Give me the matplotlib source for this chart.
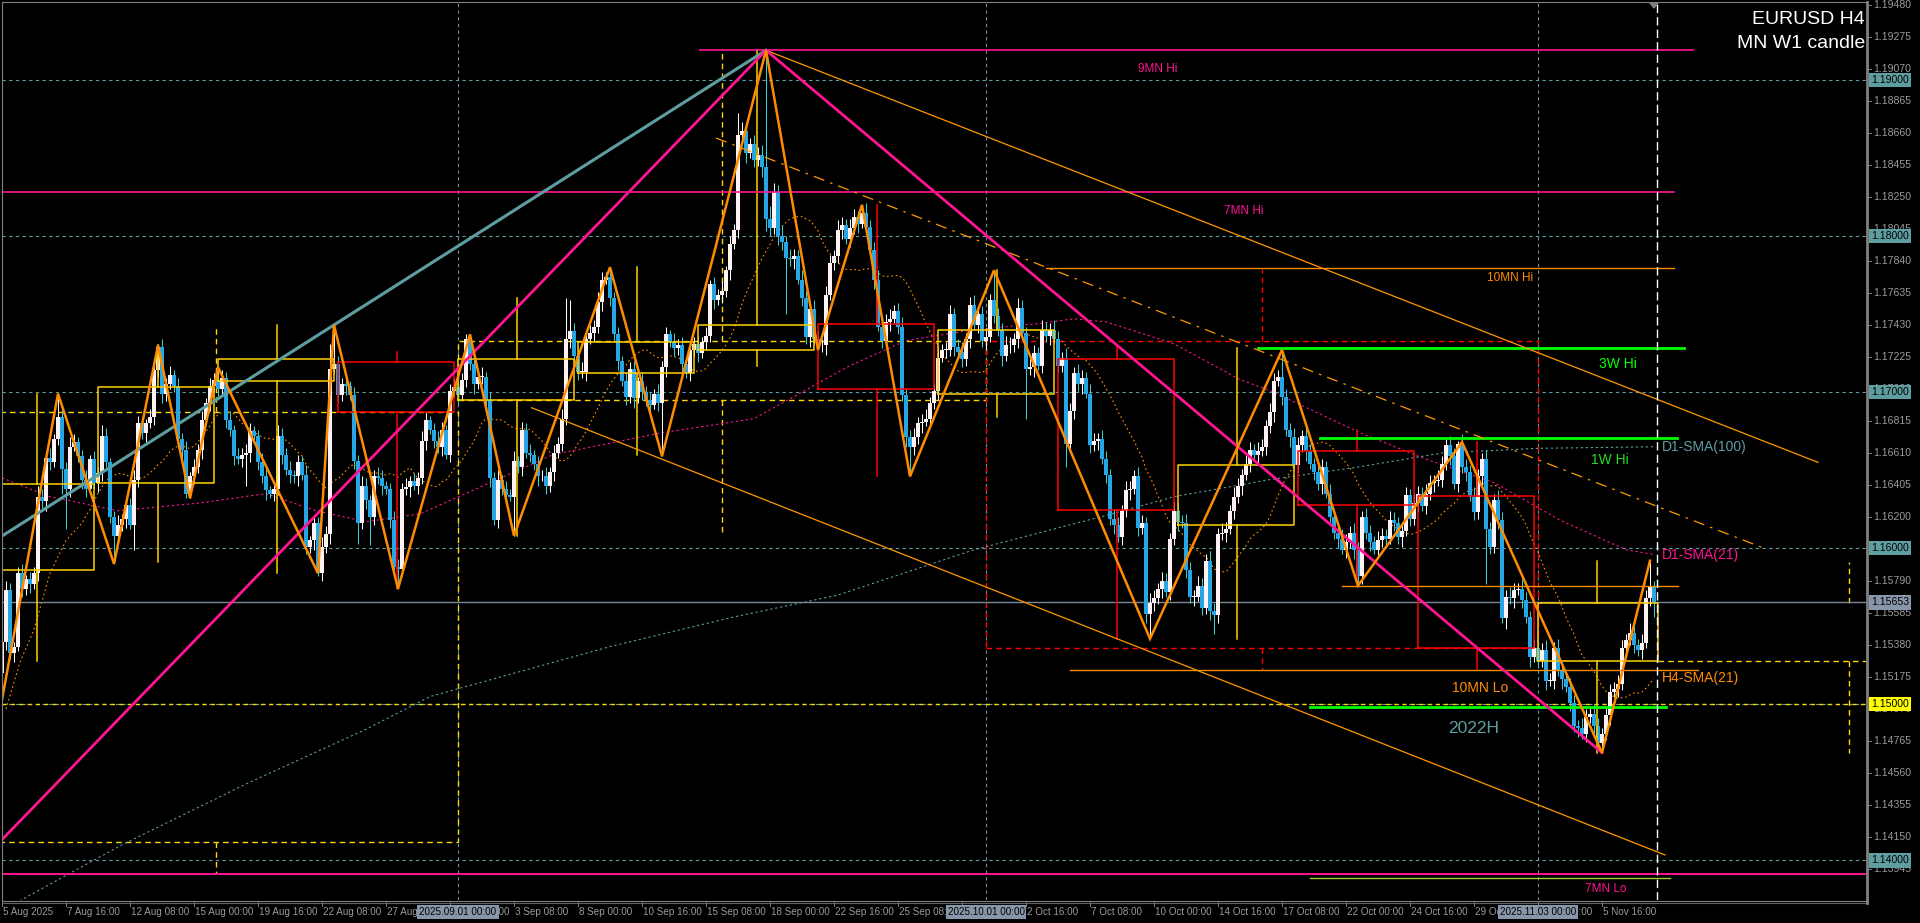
import matplotlib
matplotlib.use("Agg")
import matplotlib.pyplot as plt
import numpy as np
import pandas as pd
from matplotlib.transforms import blended_transform_factory
from matplotlib.patches import Polygon
from matplotlib import font_manager

W, H = 1920, 923
FONT = "Liberation Sans"
try:
    font_manager.findfont("Liberation Sans Narrow", fallback_to_default=False)
    AXFONT, AXSIZE = "Liberation Sans Narrow", 8.5
except Exception:
    AXFONT, AXSIZE = "Liberation Sans", 7.1
PRICE_FS = 7.6

# ---------------- data (pips above 1.1000, 1 pip = 0.0001) ----------------
close_pips = [
    540, 573, 533, 537, 584, 574, 580, 577, 584, 633,
    630, 658, 655, 670, 684, 651, 638, 665, 668, 659,
    644, 638, 657, 642, 648, 672, 655, 620, 608, 615,
    619, 628, 615, 644, 680, 674, 680, 684, 714, 729,
    699, 705, 711, 704, 670, 663, 635, 646, 652, 663,
    682, 693, 704, 708, 702, 709, 682, 676, 659, 657,
    660, 661, 675, 672, 655, 646, 637, 635, 638, 672,
    660, 650, 647, 646, 655, 647, 601, 605, 616, 584,
    601, 609, 715, 718, 698, 705, 704, 698, 656, 616,
    640, 631, 620, 646, 645, 640, 638, 618, 588, 587,
    638, 639, 643, 640, 645, 669, 682, 676, 669, 665,
    676, 660, 701, 703, 698, 708, 734, 718, 705, 710,
    710, 695, 645, 618, 644, 638, 634, 633, 656, 652,
    676, 661, 660, 654, 646, 646, 640, 649, 661, 667,
    683, 734, 739, 723, 713, 713, 734, 738, 742, 758,
    772, 774, 760, 737, 720, 707, 697, 715, 696, 707,
    700, 695, 692, 699, 693, 716, 737, 732, 728, 730,
    718, 712, 727, 731, 725, 732, 736, 769, 759, 762,
    765, 778, 795, 804, 865, 867, 853, 859, 849, 852,
    844, 811, 805, 828, 800, 796, 786, 785, 787, 772,
    760, 735, 753, 734, 730, 730, 762, 783, 787, 804,
    807, 798, 805, 812, 808, 815, 806, 791, 772, 742,
    733, 745, 747, 752, 742, 698, 671, 665, 671, 680,
    681, 683, 693, 701, 722, 727, 727, 750, 729, 726,
    721, 734, 756, 743, 750, 733, 735, 759, 749, 740,
    723, 730, 730, 734, 754, 738, 715, 716, 725, 717,
    740, 736, 740, 734, 717, 722, 667, 688, 712, 705,
    709, 699, 666, 669, 670, 657, 647, 619, 615, 607,
    624, 637, 638, 646, 613, 616, 558, 565, 568, 574,
    579, 572, 606, 624, 617, 616, 586, 569, 569, 576,
    562, 592, 560, 557, 609, 610, 612, 624, 633, 640,
    647, 654, 663, 660, 662, 665, 678, 687, 707, 710,
    697, 676, 671, 653, 666, 672, 662, 654, 649, 641,
    652, 635, 620, 610, 606, 599, 604, 610, 599, 582,
    620, 610, 604, 599, 605, 608, 606, 618, 616, 607,
    611, 634, 619, 629, 635, 627, 635, 642, 643, 644,
    654, 666, 659, 641, 667, 652, 649, 633, 623, 646,
    657, 612, 601, 631, 618, 555, 569, 568, 573, 574,
    567, 556, 530, 536, 528, 535, 515, 515, 536, 522,
    516, 511, 501, 486, 485, 481, 492, 494, 486, 475,
    481, 493, 508, 510, 513, 536, 541, 546, 538, 535,
    539, 568, 575, 565,
]
first_open_pips = 520

upper_wick_pips = [
    4, 6, 5, 3, 4, 6, 3, 5, 4, 7,
    5, 4, 6, 3, 15, 5, 4, 6, 5, 3,
    4, 6, 3, 5, 4, 7, 5, 3, 4, 6,
    3, 5, 4, 6, 5, 4, 3, 5, 6, 2,
    5, 4, 6, 3, 5, 4, 6, 3, 5, 4,
    6, 3, 5, 4, 8, 5, 4, 6, 3, 5,
    4, 6, 5, 3, 4, 6, 5, 3, 4, 7,
    5, 4, 6, 3, 5, 4, 6, 3, 5, 4,
    6, 5, 16, 25, 5, 4, 6, 3, 5, 4,
    6, 5, 3, 4, 6, 5, 3, 4, 6, 5,
    4, 6, 3, 5, 4, 6, 5, 3, 4, 6,
    5, 3, 4, 6, 5, 4, 3, 3, 5, 4,
    6, 3, 5, 4, 6, 3, 5, 4, 6, 3,
    5, 4, 6, 3, 5, 4, 6, 3, 5, 4,
    6, 26, 20, 5, 4, 6, 3, 5, 4, 6,
    5, 3, 6, 4, 5, 3, 6, 4, 5, 3,
    6, 4, 5, 3, 6, 4, 5, 3, 6, 4,
    5, 3, 6, 4, 5, 3, 6, 3, 5, 4,
    6, 3, 5, 4, 14, 6, 5, 4, 6, 5,
    6, 75, 8, 6, 5, 7, 4, 6, 5, 4,
    6, 5, 4, 6, 5, 4, 6, 5, 4, 6,
    5, 4, 6, 5, 4, 5, 6, 4, 5, 6,
    4, 5, 6, 4, 5, 6, 4, 5, 6, 4,
    5, 6, 4, 5, 6, 4, 5, 6, 4, 5,
    6, 4, 5, 6, 4, 5, 6, 4, 19, 5,
    4, 6, 5, 4, 6, 5, 4, 6, 5, 4,
    6, 5, 4, 6, 5, 4, 6, 5, 4, 6,
    5, 4, 6, 5, 4, 6, 5, 4, 6, 5,
    4, 6, 5, 4, 6, 5, 4, 6, 5, 4,
    6, 5, 4, 6, 5, 4, 6, 5, 4, 6,
    5, 4, 6, 5, 4, 6, 5, 4, 6, 5,
    4, 6, 5, 4, 6, 5, 4, 6, 5, 4,
    17, 5, 4, 6, 5, 4, 6, 5, 4, 6,
    5, 4, 6, 5, 4, 6, 5, 4, 6, 5,
    4, 6, 5, 4, 6, 5, 4, 6, 5, 4,
    6, 5, 4, 6, 5, 4, 6, 5, 4, 6,
    5, 4, 6, 5, 2, 6, 5, 4, 6, 5,
    4, 6, 5, 4, 6, 5, 4, 6, 5, 4,
    6, 5, 4, 6, 5, 4, 6, 5, 4, 6,
    5, 4, 6, 5, 4, 6, 5, 4, 6, 5,
    4, 6, 5, 4, 6, 5, 4, 6, 5, 4,
    6, 5, 17, 4,
]
lower_wick_pips = [
    17, 5, 4, 6, 3, 5, 4, 6, 3, 5,
    4, 6, 5, 3, 4, 16, 26, 5, 3, 4,
    6, 5, 3, 4, 6, 5, 3, 4, 18, 5,
    4, 6, 3, 16, 5, 4, 6, 3, 5, 4,
    6, 5, 3, 4, 6, 5, 3, 3, 5, 4,
    6, 3, 5, 4, 6, 3, 5, 4, 6, 3,
    5, 20, 6, 3, 5, 4, 6, 3, 5, 4,
    6, 3, 5, 4, 6, 3, 5, 4, 6, 2,
    5, 4, 6, 3, 5, 4, 6, 3, 5, 13,
    4, 6, 18, 5, 4, 6, 3, 5, 4, 13,
    5, 4, 6, 3, 5, 4, 6, 3, 5, 4,
    6, 3, 5, 4, 6, 3, 5, 4, 6, 3,
    5, 4, 6, 3, 5, 4, 6, 3, 25, 4,
    6, 3, 5, 4, 6, 3, 5, 4, 6, 3,
    5, 4, 6, 3, 5, 4, 6, 3, 5, 4,
    6, 3, 5, 4, 6, 3, 5, 4, 6, 3,
    5, 4, 6, 3, 5, 34, 6, 3, 5, 4,
    6, 3, 5, 4, 6, 3, 5, 4, 6, 3,
    5, 4, 6, 3, 5, 4, 6, 3, 5, 4,
    6, 8, 5, 4, 6, 5, 36, 4, 6, 3,
    5, 4, 6, 3, 3, 4, 6, 3, 5, 4,
    6, 3, 5, 4, 6, 3, 5, 4, 6, 3,
    5, 4, 6, 3, 5, 4, 6, 19, 5, 4,
    6, 3, 5, 4, 6, 3, 5, 4, 6, 3,
    5, 4, 6, 3, 5, 4, 6, 3, 5, 4,
    6, 3, 5, 4, 6, 3, 32, 4, 6, 3,
    5, 4, 6, 3, 5, 4, 15, 3, 5, 4,
    6, 3, 5, 4, 6, 3, 5, 4, 6, 3,
    5, 4, 6, 3, 5, 4, 6, 16, 5, 4,
    6, 3, 5, 4, 6, 3, 5, 4, 6, 3,
    5, 4, 6, 12, 5, 4, 6, 3, 5, 4,
    6, 3, 5, 4, 6, 3, 5, 4, 6, 3,
    5, 4, 6, 3, 5, 4, 6, 3, 5, 4,
    6, 3, 5, 4, 6, 3, 5, 4, 6, 6,
    5, 4, 6, 3, 5, 4, 6, 3, 5, 4,
    6, 3, 5, 4, 6, 3, 5, 4, 6, 3,
    5, 4, 6, 3, 5, 4, 6, 3, 5, 4,
    6, 35, 5, 4, 6, 3, 7, 4, 6, 3,
    5, 4, 6, 3, 5, 4, 6, 3, 5, 4,
    6, 3, 5, 4, 6, 3, 5, 4, 6, 3,
    6, 4, 6, 3, 5, 4, 6, 3, 5, 4,
    6, 3, 5, 9,
]

# zigzag pivots (bar index, pips)
zz_bar = [0, 14, 28, 39, 47, 54, 79, 83, 99, 117, 128, 152, 165, 191, 204, 215,
          227, 248, 287, 320, 339, 365, 400, 412]
zz_pip = [503, 699, 590, 730, 632, 716, 584, 743, 574, 737, 608, 780, 659, 919, 727,
          820, 646, 778, 542, 727, 576, 668, 469, 592]

# moving averages
h4_sma_head_bar = [1, 4.5, 8, 12, 16]
h4_sma_head_pip = [497, 527, 548, 584, 605]
d1_sma21_bar = [0, 12, 29, 49.5, 66, 78.5, 91, 104.5, 137.8, 165, 188, 212, 226, 243,
                259.5, 268, 276, 293, 309.5, 317, 339.5, 356, 373, 389.5, 406, 413]
d1_sma21_pip = [645, 633, 624, 629, 635, 624, 617, 622, 660, 674, 683, 717, 733, 740,
                744, 747, 745, 731, 708, 701, 674, 657, 642, 618, 599, 596]
d1_sma100_bar = [0, 30, 61, 91, 107, 152, 183, 209, 243, 276, 293, 317, 339, 360, 384, 413]
d1_sma100_pip = [368, 410, 449, 484, 505, 537, 556, 570, 599, 621, 633, 644, 652, 661, 664, 665]

# weekly candles (boxes)
week_start = [0, 24, 54, 84, 114, 144, 174, 204, 234, 264, 294, 324, 354, 384]
week_end = [23, 53, 83, 113, 143, 173, 203, 233, 263, 293, 323, 353, 383, 414]
week_open = [586, 642, 707, 719, 695, 712, 727, 743.5, 699, 721, 615, 662, 633.5, 528]
week_close = [641, 703, 721, 687, 721.5, 732, 743, 702, 740, 624.5, 653, 628, 536, 565]
week_high = [699, 730, 743, 726, 760, 780, 919, 820, 778, 730, 728, 676, 668, 592]
week_low = [528, 591, 584, 574, 608, 660, 717, 646, 684, 542, 542, 576, 522, 469]
week_wick_bar = [8.8, 38.9, 68.8, 98.8, 128.8, 158.8, 188.8, 218.8, 248.8, 278.8, 308.8,
                 338.8, 368.8, 398.8]

# monthly candles (dashed boxes); the running month is drawn open to the right
month_start = [-12, 114, 246]
month_end = [114, 246, 384]
month_open = [412, 695, 733]
month_close = [687, 733, 536]
month_high = [743, 919, 779]
month_low = [392, 608, 522]
month_wick_bar = [53.4, 180, 315]
run_month_from = 414
run_month_open = 528
run_month_close = 565
run_month_high = 591
run_month_low = 469
run_month_wick_bar = 461.75

# horizontal levels: (pips, from bar, to bar, colour, width)
level_pip = [919.4, 828, 391.3, 779.5, 522, 575.5, 728, 670.4, 498, 389]
level_from = [174.5, 0, 0, 261, 267, 335, 314, 329.4, 327, 327]
level_to = [422.8, 418, 466, 418, 424, 419, 420.5, 418.75, 416, 417]
level_color = ["#FF1493", "#FF1493", "#FF1493", "#FF8C00", "#FF8C00", "#FF8C00",
               "#00FF00", "#00FF00", "#00FF00", "#9ACD32"]
level_width = [1.2, 1.2, 1.4, 1.0, 1.0, 1.0, 2.0, 2.0, 2.0, 1.0]

# level / indicator labels
label_text = ["9MN Hi", "7MN Hi", "10MN Hi", "3W Hi", "1W Hi", "10MN Lo", "2022H", "7MN Lo"]
label_bar = [288.8, 310.5, 377, 404, 402, 369.5, 367.9, 401]
label_pip = [907.3, 816.3, 773, 717.8, 656.5, 510.7, 484.7, 381.7]
label_color = ["#FF1493", "#FF1493", "#FF8C00", "#00FF00", "#22DD22", "#FF8C00", "#5F9EA0", "#FF1493"]
label_size = [8.5, 8.5, 8.5, 10, 10, 10, 12.5, 8.5]
side_text = ["D1-SMA(100)", "D1-SMA(21)", "H4-SMA(21)"]
side_pip = [665, 595.7, 517]
side_color = ["#5F9EA0", "#FF1493", "#FF8C00"]

# axis labels
price_ticks = [1.19480, 1.19275, 1.19070, 1.18865, 1.18660, 1.18455, 1.18250, 1.18045,
               1.17840, 1.17635, 1.17430, 1.17225, 1.17020, 1.16815, 1.16610, 1.16405,
               1.16200, 1.15995, 1.15790, 1.15585, 1.15380, 1.15175, 1.14970, 1.14765,
               1.14560, 1.14355, 1.14150, 1.13945]
grid_prices = [1.19, 1.18, 1.17, 1.16, 1.15, 1.14]
grid_box_color = ["#5F9EA0", "#5F9EA0", "#5F9EA0", "#5F9EA0", "#FFFF00", "#5F9EA0"]
current_price = 1.15653
time_tick_bar = [0, 16, 32, 48, 64, 80, 96, 112, 128, 144, 160, 176, 192, 208, 224, 240,
                 256, 272, 288, 304, 320, 336, 352, 368, 384, 400]
time_tick_label = ["5 Aug 2025", "7 Aug 16:00", "12 Aug 08:00", "15 Aug 00:00", "19 Aug 16:00",
                   "22 Aug 08:00", "27 Aug 00:00", "29 Aug 16:00", "3 Sep 08:00", "8 Sep 00:00",
                   "10 Sep 16:00", "15 Sep 08:00", "18 Sep 00:00", "22 Sep 16:00", "25 Sep 08:00",
                   "30 Sep 00:00", "2 Oct 16:00", "7 Oct 08:00", "10 Oct 00:00", "14 Oct 16:00",
                   "17 Oct 08:00", "22 Oct 00:00", "24 Oct 16:00", "29 Oct 08:00", "3 Nov 00:00",
                   "5 Nov 16:00"]
month_sep_bar = [114, 246, 384]
month_sep_label = ["2025.09.01 00:00", "2025.10.01 00:00", "2025.11.03 00:00"]
current_bar_marker = 413.75


def P(v):
    return 1.1 + np.asarray(v, dtype=float) / 10000.0


def fx(px):
    return px / W


def fy(py):
    return 1 - py / H


# ---------------- figure ----------------
fig = plt.figure(figsize=(W / 100, H / 100), dpi=100, facecolor="black")
ax = fig.add_axes([fx(2), fy(900), (1866 - 2) / W, 898 / H])
ax.set_facecolor("black")
ax.set_xlim(0, 466)
ax.set_ylim(1.19480 - 895 / 15610, 1.19480 + 3 / 15610)
ax.axis("off")

# grid
for p in grid_prices:
    ax.axhline(p, color="#5F9EA0", lw=0.8, ls=(0, (3, 3)), zorder=1)
for b in month_sep_bar:
    ax.axvline(b, color="#6A93A0", lw=0.8, ls=(0, (3, 3)), zorder=1)
ax.axhline(1.15, color="#FFD700", lw=1.0, ls=(0, (3, 3)), zorder=1.5)

# monthly boxes
DASH = (0, (4, 3))
for s, e, o, c, hi, lo, wx in zip(month_start, month_end, month_open, month_close,
                                  month_high, month_low, month_wick_bar):
    col = "#FFD700" if c >= o else "#FF0000"
    top, bot = P(max(o, c)), P(min(o, c))
    ax.plot([s, e, e, s, s], [bot, bot, top, top, bot], color=col, lw=1.0, ls=DASH, zorder=2)
    ax.plot([wx, wx], [top, P(hi)], color=col, lw=1.0, ls=DASH, zorder=2)
    ax.plot([wx, wx], [bot, P(lo)], color=col, lw=1.0, ls=DASH, zorder=2)
ax.plot([run_month_from, 466], P([run_month_open, run_month_open]), color="#FFD700", lw=1.0,
        ls=DASH, zorder=2)
ax.plot([run_month_wick_bar] * 2, P([run_month_open, run_month_low]), color="#FFD700", lw=1.0,
        ls=DASH, zorder=2)
ax.plot([run_month_wick_bar] * 2, P([run_month_close, run_month_high]), color="#FFD700", lw=1.0,
        ls=DASH, zorder=2)

# moving averages
h4_close = pd.Series(P(close_pips))
h4_sma = h4_close.rolling(21).mean()
sma_x = list(h4_sma_head_bar) + list(range(20, len(close_pips)))
sma_y = list(P(h4_sma_head_pip)) + list(h4_sma.values[20:])
ax.plot(sma_x, sma_y, color="#FF8C00", lw=0.8, ls=(0, (1.5, 2.5)), zorder=2.5)
ax.plot(d1_sma21_bar, P(d1_sma21_pip), color="#FF1493", lw=0.8, ls=(0, (2, 2.5)), zorder=2.5)
ax.plot(d1_sma100_bar, P(d1_sma100_pip), color="#5F9EA0", lw=0.8, ls=(0, (2, 2.5)), zorder=2.5)

# current price line
ax.axhline(current_price, color="#778899", lw=1.0, zorder=2.6)

# candles
c = np.array(close_pips, dtype=float)
n = len(c)
o = np.r_[first_open_pips, c[:-1]]
hi = np.maximum(o, c) + np.array(upper_wick_pips[:n], dtype=float)
lo = np.minimum(o, c) - np.array(lower_wick_pips[:n], dtype=float)
x = np.arange(n)
bull = c >= o
body_col = np.where(bull, "#FFF2F2", "#26A6E4")
wick_col = np.where(bull, "#FFFFFF", "#38D0D2")
ax.vlines(x, P(lo), P(hi), colors=wick_col, lw=0.75, zorder=3)
ax.bar(x, P(np.maximum(np.abs(c - o), 0.5)) - 1.1, bottom=P(np.minimum(o, c)), width=0.78,
       color=body_col, linewidth=0, zorder=3.1)

# weekly boxes
for s, e, wo, wc, wh, wl, wx in zip(week_start, week_end, week_open, week_close,
                                    week_high, week_low, week_wick_bar):
    col = "#FFD000" if wc >= wo else "#FF0000"
    top, bot = P(max(wo, wc)), P(min(wo, wc))
    ax.plot([s, e, e, s, s], [bot, bot, top, top, bot], color=col, lw=1.1, zorder=3.5)
    ax.plot([wx, wx], [top, P(wh)], color=col, lw=1.1, zorder=3.5)
    ax.plot([wx, wx], [bot, P(wl)], color=col, lw=1.1, zorder=3.5)

# horizontal levels
for p, a, b, col, lw in zip(level_pip, level_from, level_to, level_color, level_width):
    ax.plot([a, b], [P(p), P(p)], color=col, lw=lw, zorder=4)

# trend lines / channel
ax.plot([-0.5, 191], P([607, 919]), color="#5F9EA0", lw=2.2, zorder=4.2)
ax.plot([-0.5, 191, 400], P([412, 919, 469]), color="#FF1493", lw=2.0, zorder=4.2)
ax.plot([191, 454], P([919, 655]), color="#FF9900", lw=0.9, zorder=4.1)
ax.plot([132.4, 415.75], P([690, 403.5]), color="#FF9900", lw=0.9, zorder=4.1)
ax.plot([178.5, 441], P([862.8, 599.5]), color="#FF9900", lw=0.9, ls=(0, (9, 5, 2, 5)), zorder=4.1)

# zigzag
ax.plot(zz_bar, P(zz_pip), color="#FF8C00", lw=1.8, zorder=4.5, solid_joinstyle="miter")

# current bar marker
ax.axvline(current_bar_marker, color="white", lw=1.0, ls=(0, (6, 3)), zorder=4.6)

# labels on chart
for t, b, p, col, fs in zip(label_text, label_bar, label_pip, label_color, label_size):
    ax.text(b, P(p), t, color=col, fontsize=fs, ha="center", va="center", family=FONT, zorder=6)
for t, p, col in zip(side_text, side_pip, side_color):
    ax.text(415, P(p), t, color=col, fontsize=10, ha="left", va="center", family=FONT, zorder=6)

# title
fig.text(fx(1865), fy(19.5), "EURUSD H4", color="white", fontsize=14, ha="right", va="center",
         family=FONT)
fig.text(fx(1865), fy(44), "MN W1 candle", color="white", fontsize=14, ha="right", va="center",
         family=FONT)

# frame
frame = dict(color="#808080", lw=0.8, transform=fig.transFigure)
fig.add_artist(plt.Line2D([fx(2), fx(1866)], [fy(2), fy(2)], **frame))
fig.add_artist(plt.Line2D([fx(2), fx(2)], [fy(2), fy(901)], **frame))
fig.add_artist(plt.Line2D([fx(2), fx(1868)], [fy(901), fy(901)], **frame))
fig.add_artist(plt.Line2D([fx(2), fx(1868)], [fy(903), fy(903)], color="#606060", lw=0.8,
                          transform=fig.transFigure))
fig.add_artist(plt.Line2D([fx(1867), fx(1867)], [fy(2), fy(903)], color="#808080", lw=2.0,
                          transform=fig.transFigure))
fig.add_artist(Polygon([[fx(1650), fy(3)], [fx(1658), fy(3)], [fx(1654), fy(8)]], closed=True,
                       transform=fig.transFigure, color="#808080"))

# price axis
ty = blended_transform_factory(fig.transFigure, ax.transData)
for p in price_ticks:
    ax.plot([fx(1867), fx(1871)], [p, p], transform=ty, color="#808080", lw=0.7, clip_on=False)
    ax.text(fx(1873), p, f"{p:.5f}", transform=ty, color="#9A9A9A", fontsize=PRICE_FS, ha="left",
            va="center", clip_on=False, family=FONT)
for p, col in zip(grid_prices, grid_box_color):
    ax.text(fx(1871), p, f"{p:.5f}", transform=ty, color="black", fontsize=PRICE_FS, ha="left",
            va="center", clip_on=False, zorder=10, family=FONT,
            bbox=dict(boxstyle="square,pad=0.2", fc=col, ec="none"))
ax.text(fx(1871), current_price, f"{current_price:.5f}", transform=ty, color="black",
        fontsize=PRICE_FS, ha="left", va="center", clip_on=False, zorder=10, family=FONT,
        bbox=dict(boxstyle="square,pad=0.2", fc="#8796A8", ec="none"))

# time axis
tx = blended_transform_factory(ax.transData, fig.transFigure)
for b, t in zip(time_tick_bar, time_tick_label):
    ax.plot([b, b], [fy(901), fy(906)], transform=tx, color="#808080", lw=0.7, clip_on=False)
    ax.text(b + 0.3, fy(912), t, transform=tx, color="#9A9A9A", fontsize=AXSIZE, ha="left",
            va="center", clip_on=False, family=AXFONT)
for b, t in zip(month_sep_bar, month_sep_label):
    ax.text(b, fy(912), t, transform=tx, color="black", fontsize=AXSIZE, ha="center",
            va="center", clip_on=False, zorder=10, family=AXFONT,
            bbox=dict(boxstyle="square,pad=0.2", fc="#8796A8", ec="none"))

fig.savefig("out.png", dpi=100, facecolor="black")
